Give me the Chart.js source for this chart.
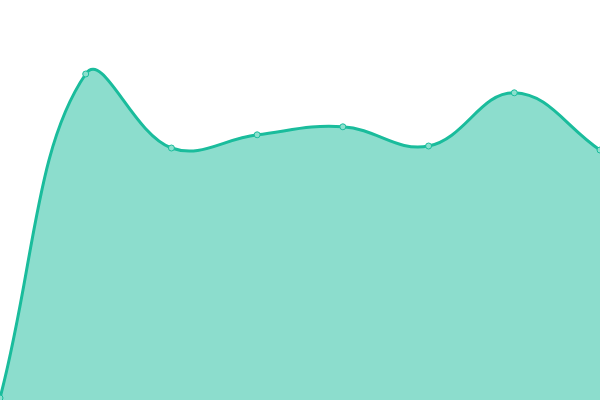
<!DOCTYPE html>
<html>
<head>
<meta charset="utf-8">
<script src="https://cdn.jsdelivr.net/npm/chart.js@4"></script>
<style>
  html, body { margin: 0; padding: 0; background: #fff; }
  #wrap { width: 600px; height: 400px; }
</style>
</head>
<body>
<div id="wrap"><canvas id="area"></canvas></div>
<script>
const labels = ['1', '2', '3', '4', '5', '6', '7', '8']
const values = [0.5, 81.5, 63, 66.3, 68.3, 63.5, 76.8, 62.5]

new Chart(document.querySelector('#area'), {
    type: 'line',
    data: {
        labels: labels,
        datasets: [{
            data: values,
            fill: true,
            tension: 0.4,
            borderColor: '#1abc9c',
            borderWidth: 3,
            backgroundColor: 'rgba(26,188,156,0.5)',
            pointRadius: 3,
            pointBorderWidth: 1,
            pointBackgroundColor: 'rgba(140,224,206,1)',
            pointBorderColor: '#1abc9c'
        }]
    },
    options: {
        responsive: true,
        maintainAspectRatio: false,
        animation: false,
        layout: { padding: 0, autoPadding: false },
        scales: {
            x: { display: false },
            y: { display: false, min: 0, max: 100 }
        },
        plugins: {
            legend: { display: false },
            tooltip: { enabled: false }
        }
    }
})
</script>
</body>
</html>
